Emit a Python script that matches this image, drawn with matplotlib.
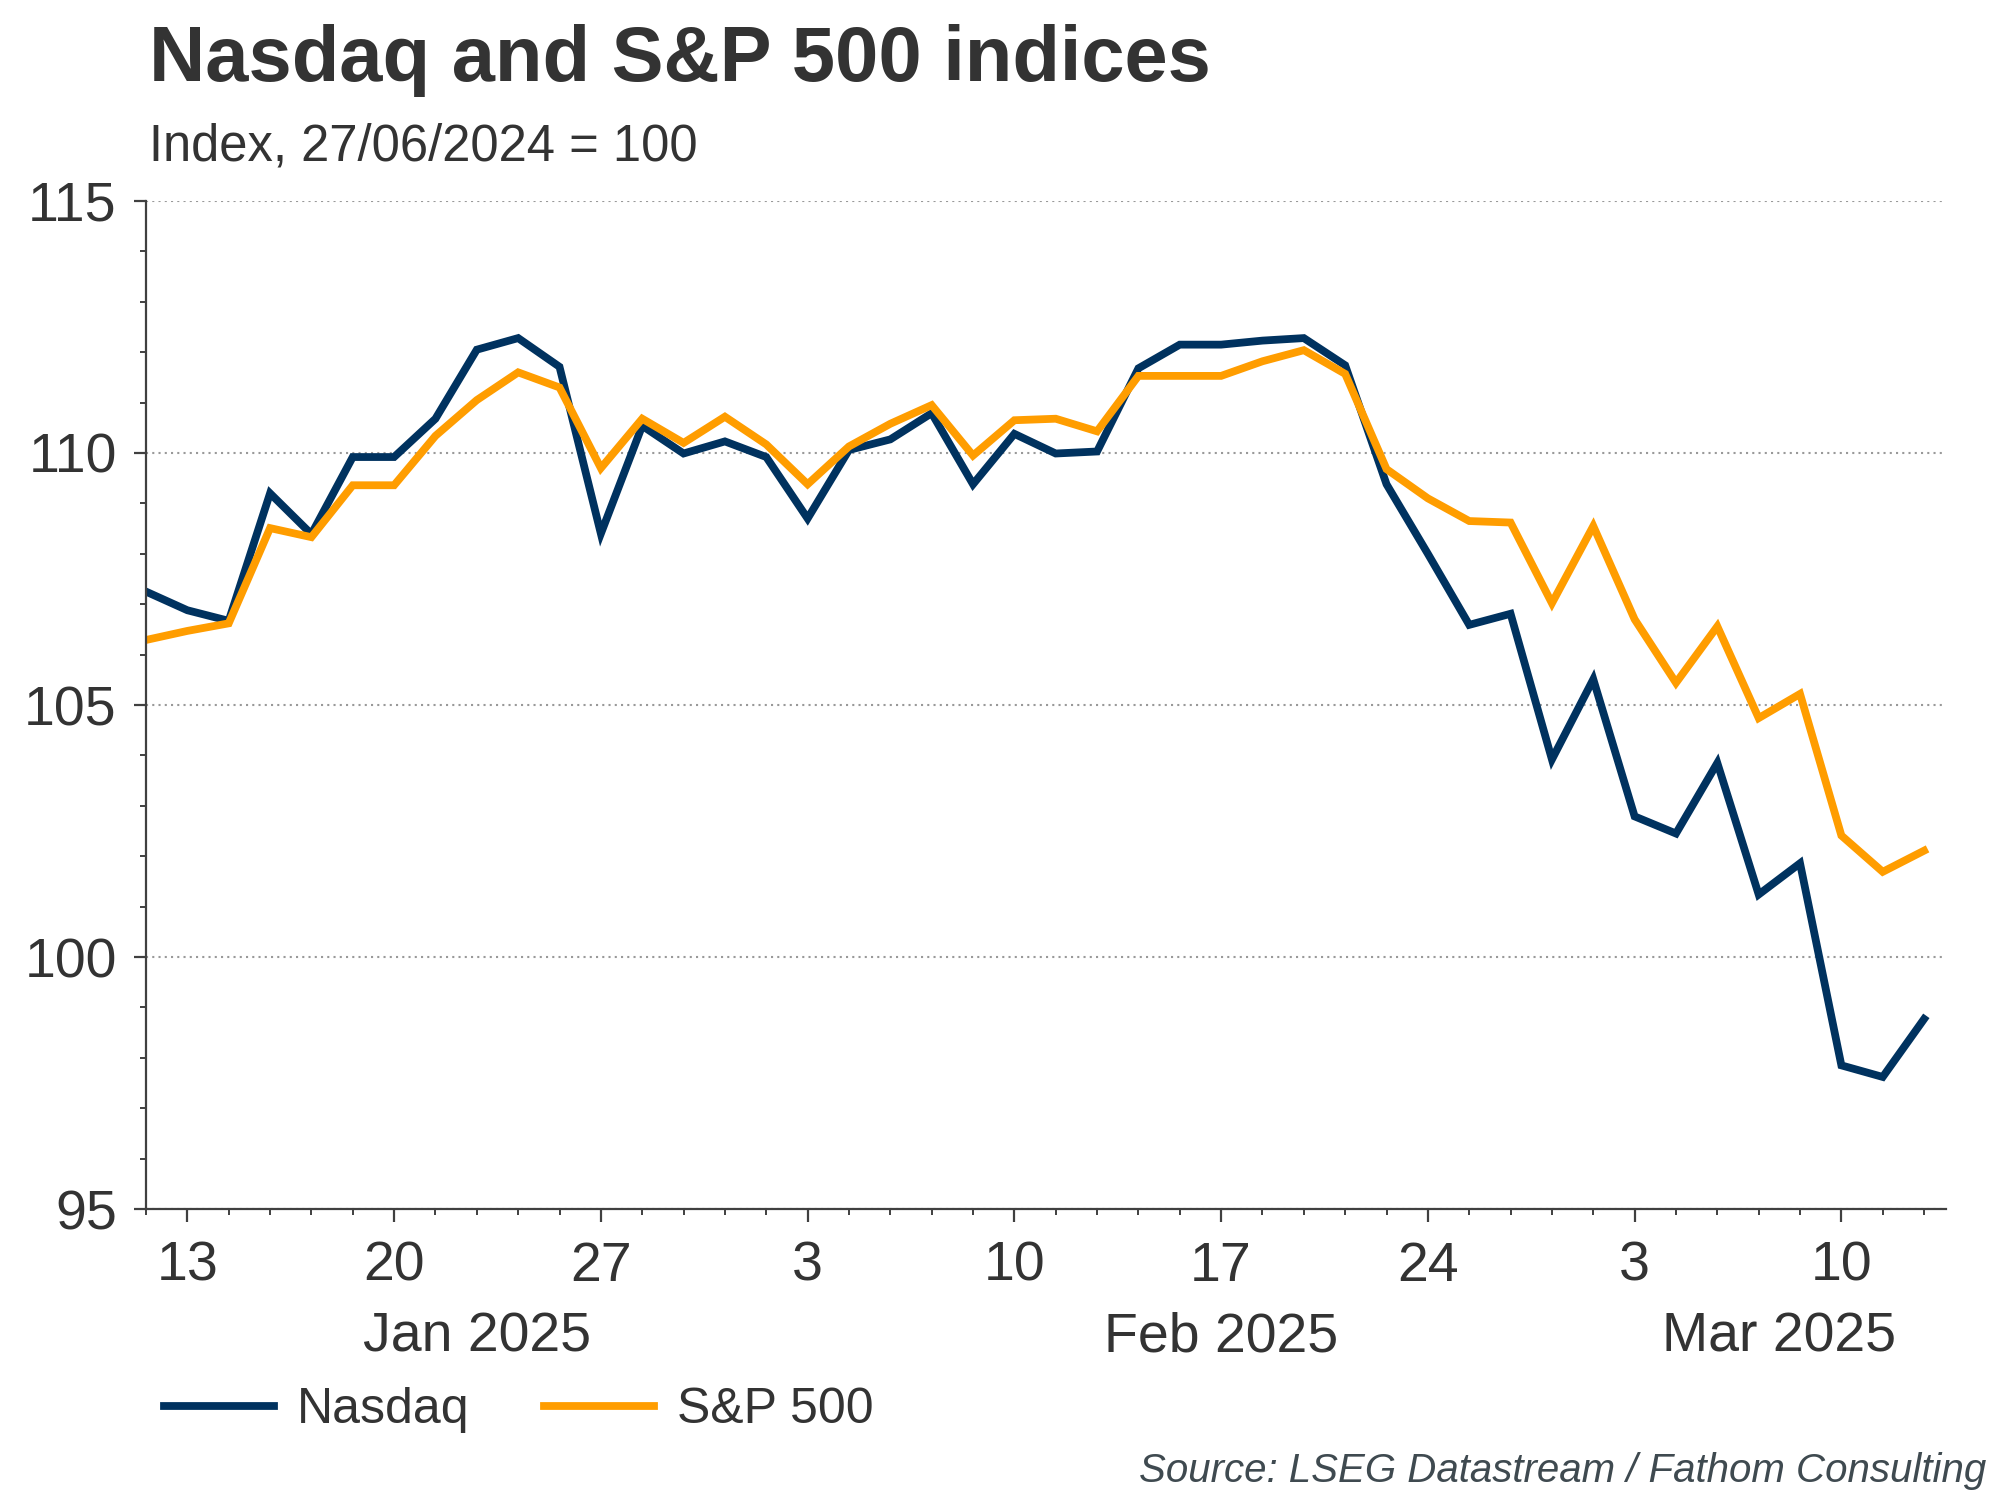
import matplotlib
matplotlib.use("Agg")
import matplotlib.pyplot as plt
import matplotlib.transforms as mtransforms
from matplotlib.ticker import MultipleLocator, FixedLocator
import numpy as np
import pandas as pd

# Handelstage 10.01.2025 - 12.03.2025 (Feiertage mit Vortageswert)
dates = pd.bdate_range("2025-01-10", "2025-03-12")

nasdaq = [107.25, 106.88, 106.67, 109.20, 108.39, 109.92, 109.92, 110.68, 112.05, 112.28,
          111.71, 108.40, 110.54, 109.99, 110.23, 109.92, 108.70, 110.06, 110.27, 110.79,
          109.38, 110.38, 109.99, 110.03, 111.68, 112.15, 112.15, 112.23, 112.28, 111.74,
          109.38, 108.00, 106.59, 106.81, 103.92, 105.51, 102.79, 102.45, 103.85, 101.24,
          101.86, 97.85, 97.62, 98.77]

sp500 = [106.29, 106.47, 106.62, 108.51, 108.33, 109.36, 109.36, 110.34, 111.05, 111.60,
         111.30, 109.70, 110.68, 110.20, 110.72, 110.17, 109.38, 110.13, 110.58, 110.95,
         109.95, 110.65, 110.68, 110.43, 111.53, 111.53, 111.53, 111.82, 112.04, 111.57,
         109.68, 109.10, 108.65, 108.62, 107.02, 108.55, 106.70, 105.44, 106.56, 104.74,
         105.22, 102.41, 101.69, 102.11]

month_labels = ["Jan 2025", "Feb 2025", "Mar 2025"]
y_ticks = [95, 100, 105, 110, 115]

NAVY = "#00325F"
ORANGE = "#FF9D00"
TEXT = "#333333"

plt.rcParams["font.family"] = ["Liberation Sans", "DejaVu Sans"]

fig = plt.figure(figsize=(20, 15), dpi=100)
ax = fig.add_axes([0.073, 0.194, 0.900, 0.672])

x = np.arange(len(dates))
ax.plot(x, nasdaq, color=NAVY, lw=5.6, label="Nasdaq", solid_joinstyle="miter")
ax.plot(x, sp500, color=ORANGE, lw=5.6, label="S&P 500", solid_joinstyle="miter")

ax.set_xlim(0, len(dates) - 0.47)
ax.set_ylim(95, 115)

# y-Achse
ax.set_yticks(y_ticks)
ax.yaxis.set_minor_locator(MultipleLocator(1))
ax.grid(axis="y", which="major", color="#999999", ls=(0, (1, 2)), lw=1.5)
ax.set_axisbelow(True)

# x-Achse: Montage als Hauptticks, jeder Handelstag als Nebentick
mondays = [i for i, d in enumerate(dates) if d.dayofweek == 0]
ax.xaxis.set_major_locator(FixedLocator(mondays))
ax.set_xticklabels([str(dates[i].day) for i in mondays])
ax.xaxis.set_minor_locator(FixedLocator(list(x)))

for side in ["top", "right"]:
    ax.spines[side].set_visible(False)
for side in ["left", "bottom"]:
    ax.spines[side].set_color("#404040")
    ax.spines[side].set_linewidth(1.6)

ax.tick_params(axis="both", which="major", labelsize=40, colors="#404040",
               labelcolor=TEXT, length=9, width=1.6)
ax.tick_params(axis="both", which="minor", colors="#404040", length=4, width=1.4)
ax.tick_params(axis="y", which="major", pad=12)
ax.tick_params(axis="x", which="major", pad=14)

# Monatsbeschriftungen
trans = mtransforms.blended_transform_factory(ax.transData, ax.transAxes)
for pos, lab in zip([8.0, 26.0, 39.5], month_labels):
    ax.text(pos, -0.127, lab, transform=trans, ha="center", va="center",
            fontsize=40, color=TEXT)

fig.text(0.0744, 0.946, "Nasdaq and S&P 500 indices", fontsize=56,
         fontweight="bold", color=TEXT, ha="left", va="baseline")
fig.text(0.0744, 0.893, "Index, 27/06/2024 = 100", fontsize=36.5,
         color=TEXT, ha="left", va="baseline")

fig.legend(loc="center left", bbox_to_anchor=(0.082, 0.06), ncol=2, frameon=False,
           fontsize=36, handlelength=2.2, handletextpad=0.45, columnspacing=1.5,
           borderpad=0, borderaxespad=0, labelcolor=TEXT)

fig.text(0.993, 0.019, "Source: LSEG Datastream / Fathom Consulting", fontsize=29,
         style="italic", color="#3F4A50", ha="right", va="center")

fig.savefig("out.png", dpi=100)
